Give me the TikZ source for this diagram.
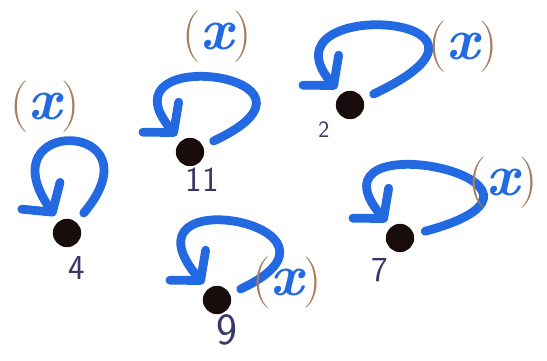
\documentclass[tikz,border=0pt]{standalone}
\usetikzlibrary{positioning,arrows.meta,calc}
\definecolor{loopblue}{RGB}{35,105,225}
\definecolor{parbrown}{RGB}{165,125,95}
\definecolor{numnavy}{RGB}{55,55,105}
\definecolor{dotblack}{RGB}{25,12,12}
\newcommand{\parx}{\textcolor{parbrown}{(}\textcolor{loopblue}{\fontsize{50}{50}\selectfont\bfseries\itshape x}\textcolor{parbrown}{)}}

\begin{document}
\begin{tikzpicture}[
  x=0.03cm, y=-0.03cm,
  dot/.style={circle, fill=dotblack, minimum size=0.85cm, inner sep=0pt},
  selfloop/.style={draw=loopblue, line width=7.5pt, line cap=round,
    -{Straight Barb[length=6mm, width=14mm, round]}, shorten <=0.35cm, shorten >=0.2cm},
  numlab/.style={text=numnavy, font=\sffamily\fontsize{30}{30}\selectfont, inner sep=0pt},
  xlab/.style={font=\fontsize{44}{44}\selectfont, inner sep=0pt}
]
  \useasboundingbox (0,0) rectangle (547,361);

  % the states
  \node[dot] (d4) at (67,233) {};
  \node[dot] (d11) at (190,152) {};
  \node[dot] (d2) at (350,105) {};
  \node[dot] (d9) at (217,300) {};
  \node[dot] (d7) at (400,238) {};

  % self loops
  \draw[selfloop] (d4) to[out=50, in=125, out distance=4cm, in distance=3.9cm] (d4);
  \draw[selfloop] (d11) to[out=25, in=130, out distance=5cm, in distance=3.9cm] (d11);
  \draw[selfloop] (d2) to[out=25, in=130, out distance=6cm, in distance=3.9cm] (d2);
  \draw[selfloop] (d9) to[out=25, in=130, out distance=4.8cm, in distance=4.4cm] (d9);
  \draw[selfloop] (d7) to[out=15, in=130, out distance=6cm, in distance=4.3cm] (d7);

  % numbers
  \node[numlab] (n4) at ($(d4)+(10,35)$) {4};
  \node[numlab] (n11) at ($(d11)+(12,28)$) {11};
  \node[numlab, font=\sffamily\fontsize{20}{20}\selectfont] (n2) at ($(d2)+(-26,25)$) {2};
  \node[numlab, font=\sffamily\fontsize{38}{38}\selectfont] (n9) at ($(d9)+(10,30)$) {9};
  \node[numlab] (n7) at ($(d7)+(-20,32)$) {7};

  % loop labels
  \node[xlab] (x4) at ($(d4)+(-22,-126)$) {\parx};
  \node[xlab] (x11) at ($(d11)+(27,-115)$) {\parx};
  \node[xlab] (x2) at ($(d2)+(113,-58)$) {\parx};
  \node[xlab] (x9) at ($(d9)+(70,-17)$) {\parx};
  \node[xlab] (x7) at ($(d7)+(103,-55)$) {\parx};
\end{tikzpicture}
\end{document}
